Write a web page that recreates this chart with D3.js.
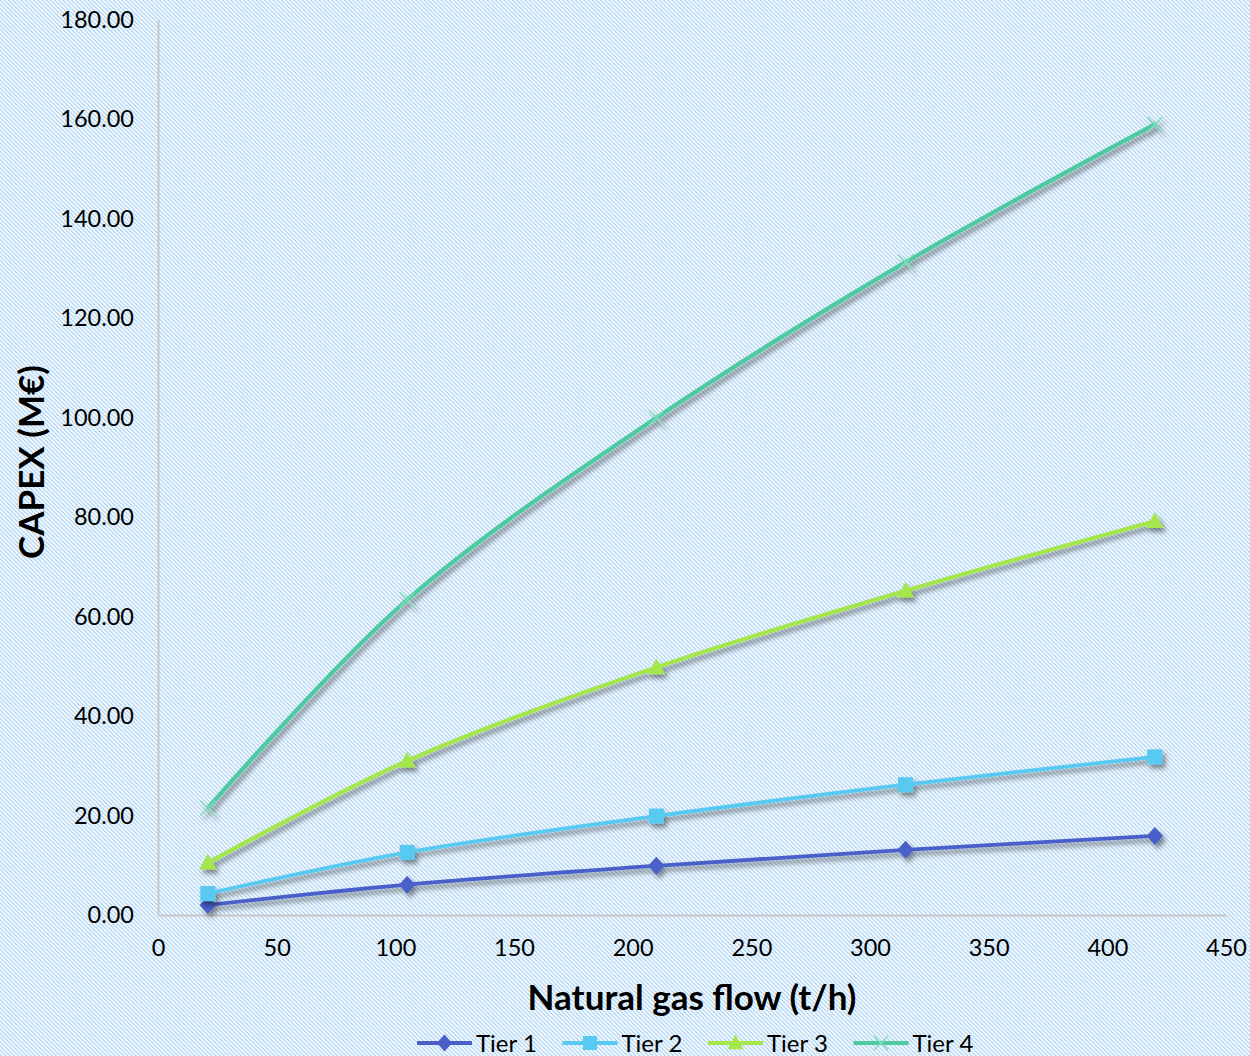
<!DOCTYPE html>
<html>
<head>
<meta charset="utf-8">
<script src="https://cdn.jsdelivr.net/npm/d3@7"></script>
<style>
  html, body { margin: 0; padding: 0; background: #fff; }
  svg { display: block; }
  text { font-family: Lato, "Open Sans", sans-serif; fill: #000; }
</style>
</head>
<body>
<svg id="chart" width="1250" height="1056"></svg>
<script>
// Natural gas flow (t/h)
const flows = [21, 105, 210, 315, 420];
// CAPEX (M€) per tier
const tier1 = [2.0, 6.1, 9.9, 13.1, 15.9];
const tier2 = [4.3, 12.6, 19.9, 26.2, 31.8];
const tier3 = [10.5, 31.0, 49.8, 65.2, 79.2];
const tier4 = [21.5, 63.4, 100.0, 131.3, 159.0];
const seriesNames = ["Tier 1", "Tier 2", "Tier 3", "Tier 4"];
const xTicks = [0, 50, 100, 150, 200, 250, 300, 350, 400, 450];
const yTicks = [0, 20, 40, 60, 80, 100, 120, 140, 160, 180];

const series = [
  { name: seriesNames[0], values: tier1, color: "#4a5fc9", marker: "diamond" },
  { name: seriesNames[1], values: tier2, color: "#58c9f1", marker: "square" },
  { name: seriesNames[2], values: tier3, color: "#a4e64c", marker: "triangle" },
  { name: seriesNames[3], values: tier4, color: "#4ecaa1", marker: "cross" }
];

const svg = d3.select("#chart");
const W = 1250, H = 1056;
const m = { left: 158, right: 1226, top: 20, bottom: 915 };

const defs = svg.append("defs");
// Light downward diagonal fill behind the whole chart
const P = 4.2;
const pat = defs.append("pattern")
  .attr("id", "hatch").attr("patternUnits", "userSpaceOnUse")
  .attr("width", P).attr("height", P);
pat.append("rect").attr("width", P).attr("height", P).attr("fill", "#ffffff");
pat.append("path")
  .attr("d", `M${-P / 4},${-P / 4} L${P * 1.25},${P * 1.25} M${-P / 4},${P * 0.75} L${P / 4},${P * 1.25} M${P * 0.75},${-P / 4} L${P * 1.25},${P / 4}`)
  .attr("stroke", "#a6d0f3").attr("stroke-width", 1.3);

const sh = defs.append("filter").attr("id", "shadow")
  .attr("x", "-20%").attr("y", "-20%").attr("width", "140%").attr("height", "140%");
sh.append("feDropShadow").attr("dx", 3).attr("dy", 4).attr("stdDeviation", 2.6)
  .attr("flood-color", "#000").attr("flood-opacity", 0.45);

svg.append("rect").attr("width", W).attr("height", H).attr("fill", "url(#hatch)");

const x = d3.scaleLinear().domain([0, 450]).range([m.left, m.right]);
const y = d3.scaleLinear().domain([0, 180]).range([m.bottom, m.top]);

// Axes
const xAxis = svg.append("g").attr("transform", `translate(0,${m.bottom})`)
  .call(d3.axisBottom(x).tickValues(xTicks).tickSize(0).tickPadding(24).tickFormat(d3.format("d")));
const yAxis = svg.append("g").attr("transform", `translate(${m.left},0)`)
  .call(d3.axisLeft(y).tickValues(yTicks).tickSize(0).tickPadding(24).tickFormat(d3.format(".2f")));
[xAxis, yAxis].forEach(g => {
  g.select(".domain").attr("stroke", "#c8c8c8").attr("stroke-width", 2);
  g.selectAll("text").style("font-family", "Lato, 'Open Sans', sans-serif")
    .style("font-size", "23.5px").attr("fill", "#000");
});

// Axis titles
svg.append("text").attr("x", 692).attr("y", 1010)
  .attr("text-anchor", "middle").style("font-size", "35px").style("font-weight", "bold")
  .text("Natural gas flow (t/h)");
svg.append("text").attr("transform", "translate(44,462) rotate(-90)")
  .attr("text-anchor", "middle").style("font-size", "35px").style("font-weight", "bold")
  .text("CAPEX (M€)");

const line = d3.line()
  .x((d, i) => x(flows[i]))
  .y(d => y(d))
  .curve(d3.curveCatmullRom.alpha(0.5));

function drawMarker(g, type, color, cx, cy, s) {
  if (type === "diamond") {
    g.append("path").attr("d", `M${cx},${cy - s * 0.6} L${cx + s * 0.55},${cy} L${cx},${cy + s * 0.6} L${cx - s * 0.55},${cy} Z`)
      .attr("fill", color);
  } else if (type === "square") {
    g.append("rect").attr("x", cx - s / 2).attr("y", cy - s / 2).attr("width", s).attr("height", s)
      .attr("fill", color);
  } else if (type === "triangle") {
    g.append("path").attr("d", `M${cx},${cy - s * 0.6} L${cx + s * 0.58},${cy + s * 0.45} L${cx - s * 0.58},${cy + s * 0.45} Z`)
      .attr("fill", color);
  } else {
    const h = s * 0.5;
    g.append("path").attr("d", `M${cx - h},${cy - h} L${cx + h},${cy + h} M${cx - h},${cy + h} L${cx + h},${cy - h}`)
      .attr("stroke", "#7fdcbc").attr("stroke-width", 1.4).attr("fill", "none");
  }
}

// Series: line plus markers, with soft drop shadow
series.forEach(s => {
  const g = svg.append("g").attr("filter", "url(#shadow)");
  g.append("path").datum(s.values).attr("d", line)
    .attr("fill", "none").attr("stroke", s.color)
    .attr("stroke-width", s.marker === "cross" || s.marker === "triangle" ? 4.2 : 3.8)
    .attr("stroke-linecap", "round");
  s.values.forEach((v, i) => drawMarker(g, s.marker, s.color, x(flows[i]), y(v), 15));
});

// Legend
const legend = svg.append("g").attr("transform", "translate(417,1043)");
series.forEach((s, i) => {
  const g = legend.append("g").attr("transform", `translate(${i * 145.5},0)`);
  g.append("line").attr("x1", 0).attr("x2", 55).attr("y1", 0).attr("y2", 0)
    .attr("stroke", s.color).attr("stroke-width", 4.2);
  drawMarker(g, s.marker, s.color, 27.5, 0, 14);
  g.append("text").attr("x", 59).attr("y", 8.5).style("font-size", "24px").text(s.name);
});
</script>
</body>
</html>
